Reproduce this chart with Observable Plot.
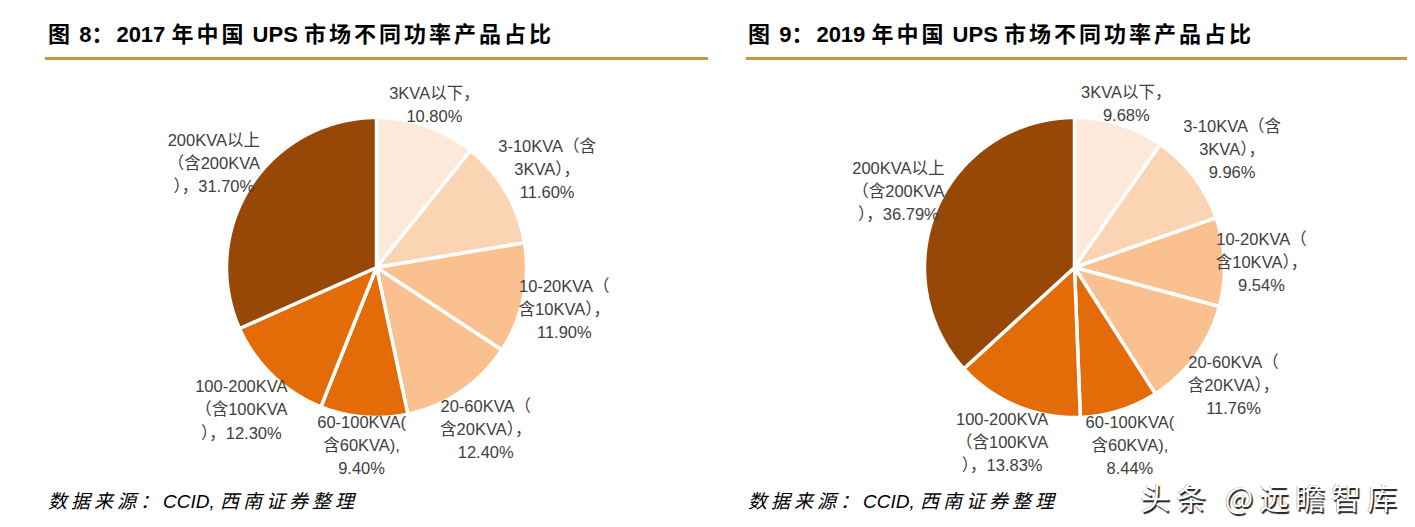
<!DOCTYPE html>
<html>
<head>
<meta charset="utf-8">
<script src="https://cdn.jsdelivr.net/npm/d3@7"></script>
<script src="https://cdn.jsdelivr.net/npm/@observablehq/plot@0.6"></script>
<style>
  html, body { margin: 0; padding: 0; background: #fff; }
  #page { position: relative; width: 1415px; height: 527px; overflow: hidden; background: #fff;
          font-family: "Liberation Sans", Arial, "Noto Sans CJK SC", sans-serif; }
  .title { position: absolute; top: 21px; font-size: 22px; font-weight: bold; color: #000;
           white-space: nowrap; line-height: 28px; }
  .title .cj { letter-spacing: 3px; }
  .rule { position: absolute; top: 57px; height: 3px; background: #C8963F; }
  .source { position: absolute; top: 489px; font-size: 19px; font-style: italic; color: #000;
            white-space: nowrap; line-height: 26px; }
  .source .cj { letter-spacing: 4px; }
  .chart { position: absolute; top: 60px; }
  #wm { position: absolute; left: 1140px; top: 480px; font-size: 30px; color: #fff; letter-spacing: 6px;
        white-space: nowrap; line-height: 32px; font-family: "Noto Sans CJK SC", sans-serif;
        text-shadow: 1.5px 1.5px 1px rgba(0,0,0,0.9), -0.5px -0.5px 0.5px rgba(0,0,0,0.5); }
</style>
</head>
<body>
<div id="page">
  <div class="title" style="left:48px"><span class="cj">图</span> 8<span class="cj">：</span>2017 <span class="cj">年中国</span> UPS <span class="cj">市场不同功率产品占比</span></div>
  <div class="rule" style="left:45px; width:663px"></div>
  <div class="title" style="left:748px"><span class="cj">图</span> 9<span class="cj">：</span>2019 <span class="cj">年中国</span> UPS <span class="cj">市场不同功率产品占比</span></div>
  <div class="rule" style="left:746px; width:661px"></div>
  <div id="c1" class="chart" style="left:0px"></div>
  <div id="c2" class="chart" style="left:707px"></div>
  <div class="source" style="left:48px"><span class="cj">数据来源：</span>CCID, <span class="cj">西南证券整理</span></div>
  <div class="source" style="left:748px"><span class="cj">数据来源：</span>CCID, <span class="cj">西南证券整理</span></div>
  <div id="wm">头条 @远瞻智库</div>
</div>
<script>
// ---- data ----
const categories = ["3KVA以下", "3-10KVA（含3KVA）", "10-20KVA（含10KVA）", "20-60KVA（含20KVA）",
                    "60-100KVA(含60KVA)", "100-200KVA（含100KVA）", "200KVA以上（含200KVA）"];
const labelHead = ["3KVA以下，", "3-10KVA（含\n3KVA），", "10-20KVA（\n含10KVA），", "20-60KVA（\n含20KVA），",
                   "60-100KVA(\n含60KVA),", "100-200KVA\n（含100KVA\n），", "200KVA以上\n（含200KVA\n），"];
const labelJoin = ["\n", "\n", "\n", "\n", "\n", "", ""];
const values2017 = [10.80, 11.60, 11.90, 12.40, 9.40, 12.30, 31.70];
const values2019 = [9.68, 9.96, 9.54, 11.76, 8.44, 13.83, 36.79];
const sliceColors = ["#FDE9D9", "#FBD4B4", "#FAC090", "#FAC090", "#E36C09", "#E36C09", "#974806"];

const FS = 16.5, LH = 1.4;

function textBox(str) {
  const lines = str.split("\n");
  const w = d3.max(lines, l => d3.sum(Array.from(l), ch => ch.codePointAt(0) > 0x2E80 ? FS : FS * 0.56));
  return {hw: w / 2, hh: lines.length * FS * LH / 2};
}

function pieChart(values, W, H, cx, cy, R) {
  const arcs = d3.pie().sort(null).value(d => d)(values);
  const pts = [];
  arcs.forEach((a, i) => {
    const cat = categories[i];
    pts.push({cat, x: 0, y: 0});
    const n = Math.max(2, Math.ceil((a.endAngle - a.startAngle) / 0.005));
    for (let k = 0; k <= n; k++) {
      const t = a.startAngle + (a.endAngle - a.startAngle) * k / n;
      pts.push({cat, x: Math.sin(t), y: Math.cos(t)});
    }
    pts.push({cat, x: 0, y: 0});
  });
  const labels = arcs.map((a, i) => {
    const m = (a.startAngle + a.endAngle) / 2;
    const text = labelHead[i] + labelJoin[i] + values[i].toFixed(2) + "%";
    const {hw, hh} = textBox(text);
    const s = Math.sin(m), c = Math.cos(m);
    const dist = (R - 12 + Math.abs(s) * hw + Math.abs(c) * hh) / R;
    return {x: dist * s, y: dist * c, text};
  });
  return Plot.plot({
    width: W, height: H, margin: 0,
    style: {background: "transparent", overflow: "visible"},
    x: {domain: [-cx / R, (W - cx) / R], axis: null},
    y: {domain: [-(H - cy) / R, cy / R], axis: null},
    color: {domain: categories, range: sliceColors},
    marks: [
      Plot.line(pts, {x: "x", y: "y", z: "cat", fill: "cat", stroke: "white",
                      strokeWidth: 3.5, strokeLinejoin: "round", curve: "linear"}),
      Plot.text(labels, {x: "x", y: "y", text: "text", fontSize: FS, lineHeight: LH,
                         fill: "#404040", textAnchor: "middle", lineAnchor: "middle",
                         fontFamily: "'Liberation Sans', Arial, 'Noto Sans CJK SC', sans-serif"})
    ]
  });
}

document.getElementById("c1").appendChild(pieChart(values2017, 707, 425, 376, 207, 150));
document.getElementById("c2").appendChild(pieChart(values2019, 708, 425, 367, 207, 150));
</script>
</body>
</html>
